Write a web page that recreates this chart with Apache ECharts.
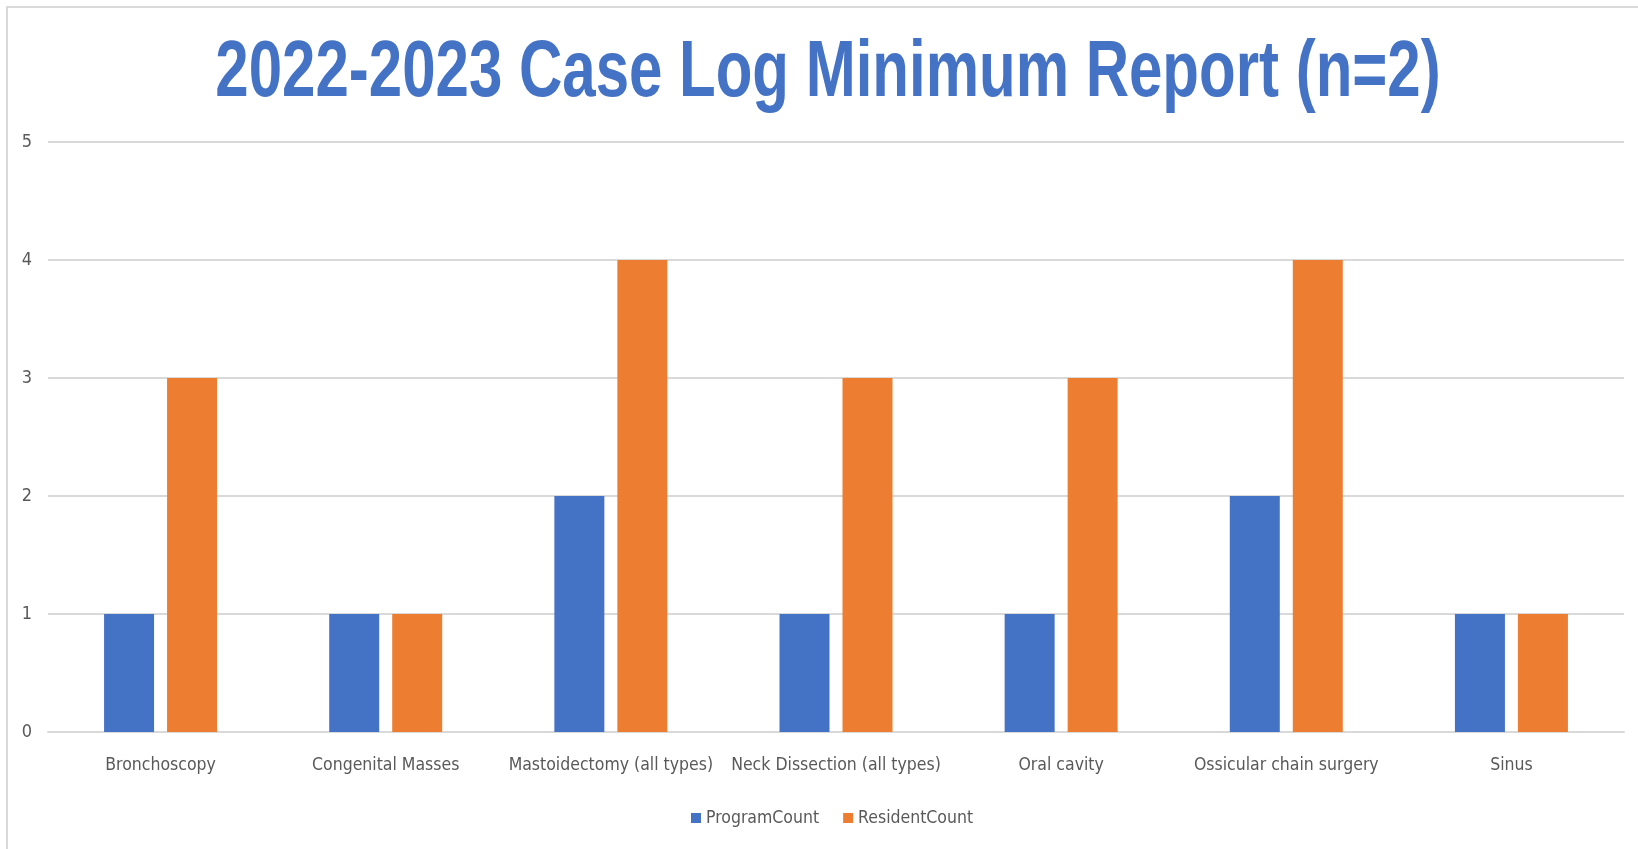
<!DOCTYPE html>
<html>
<head>
<meta charset="utf-8">
<script src="https://cdn.jsdelivr.net/npm/echarts@6/dist/echarts.min.js"></script>
<style>
  html, body { margin: 0; padding: 0; background: #fff; }
  #chart { width: 1638px; height: 849px; }
</style>
</head>
<body>
<div id="chart"></div>
<script>
const categories = ["Bronchoscopy", "Congenital Masses", "Mastoidectomy (all types)", "Neck Dissection (all types)", "Oral cavity", "Ossicular chain surgery", "Sinus"];
const programCount = [1, 1, 2, 1, 1, 2, 1];
const residentCount = [3, 1, 4, 3, 3, 4, 1];
const yTicks = [0, 1, 2, 3, 4, 5];

const labelFont = '"Liberation Sans Narrow", "DejaVu Sans Condensed", "Roboto Condensed", sans-serif';

const chart = echarts.init(document.getElementById("chart"));

const options = {
  animation: false,
  backgroundColor: "#fff",
  grid: { left: 48, right: 14, top: 142, bottom: 117 },
  graphic: [
    // light frame round the chart area, like the pasted picture
    { type: "rect", shape: { x: 7, y: 7, width: 1700, height: 900 }, style: { fill: "none", stroke: "#d9d9d9", lineWidth: 2 }, silent: true },
    {
      type: "text", x: 828, y: 74, scaleX: 0.75,
      style: { text: "2022-2023 Case Log Minimum Report (n=2)", font: 'bold 80px "Liberation Sans", Arial, sans-serif', fill: "#4472C4", textAlign: "center", textVerticalAlign: "middle" }
    }
  ],
  legend: {
    bottom: 17,
    left: 686,
    itemWidth: 10, itemHeight: 10, itemGap: 24,
    icon: "rect",
    textStyle: { color: "#595959", fontSize: 17.5, fontFamily: labelFont },
    data: ["ProgramCount", "ResidentCount"]
  },
  xAxis: {
    type: "category",
    data: categories,
    axisLine: { show: true, lineStyle: { color: "#d9d9d9", width: 2 } },
    axisTick: { show: false },
    axisLabel: { color: "#595959", fontSize: 17.5, fontFamily: labelFont, margin: 24, interval: 0 }
  },
  yAxis: {
    type: "value",
    min: yTicks[0], max: yTicks[yTicks.length - 1], interval: 1,
    axisLine: { show: false },
    axisTick: { show: false },
    axisLabel: { color: "#595959", fontSize: 18, fontFamily: labelFont, margin: 16 },
    splitLine: { lineStyle: { color: "#d9d9d9", width: 2 } }
  },
  series: [
    { name: "ProgramCount", type: "bar", data: programCount, barWidth: 50, barGap: "26%", itemStyle: { color: "#4472C4" } },
    { name: "ResidentCount", type: "bar", data: residentCount, barWidth: 50, barGap: "26%", itemStyle: { color: "#ED7D31" } }
  ]
};

chart.setOption(options);
</script>
</body>
</html>
